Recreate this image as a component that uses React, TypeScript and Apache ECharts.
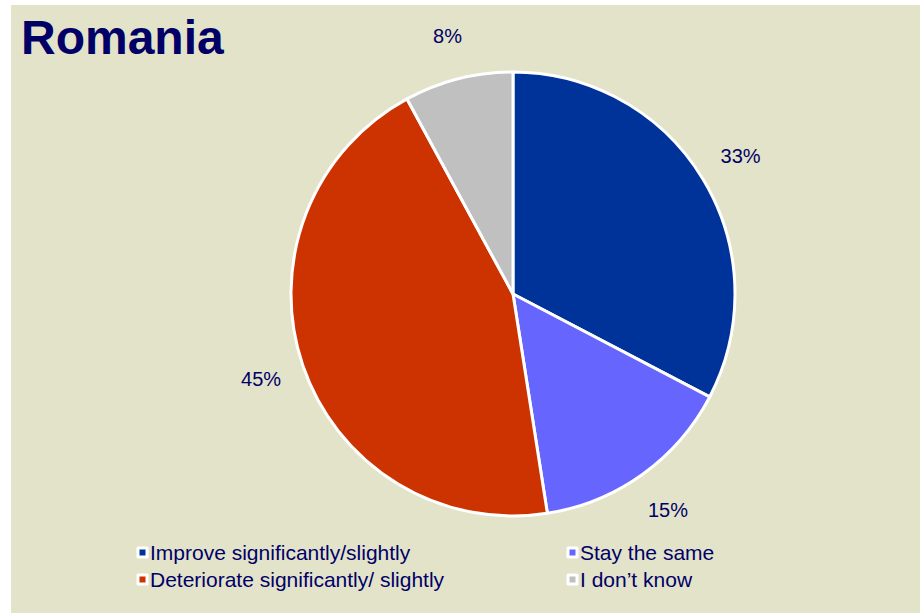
import React, { useEffect, useRef } from "react";
import * as echarts from "echarts";

const categories = [
  "Improve significantly/slightly",
  "Stay the same",
  "Deteriorate significantly/ slightly",
  "I don\u2019t know",
];
const values = [33, 15, 45, 8];
const colors = ["#003399", "#6666FF", "#CC3300", "#C0C0C0"];
const title = "Romania";

const TEXT = "#000066";
const FONT = "Liberation Sans, Arial, sans-serif";

export default function App() {
  const ref = useRef<HTMLDivElement>(null);
  useEffect(() => {
    document.body.style.margin = "0";
    const chart = echarts.init(ref.current!, undefined, { renderer: "svg" });
    const data = categories.map((name, i) => ({
      name,
      value: values[i],
      itemStyle: { color: colors[i] },
    }));
    const legendCommon = {
      orient: "vertical" as const,
      icon: "rect",
      itemWidth: 9,
      itemHeight: 9,
      itemGap: 6,
      top: 537,
      itemStyle: { borderColor: "#ffffff", borderWidth: 3 },
      textStyle: { color: TEXT, fontSize: 21, fontFamily: FONT, padding: [0, 0, 0, -2] },
      selectedMode: false,
    };
    chart.setOption({
      animation: false,
      backgroundColor: "#ffffff",
      graphic: [
        {
          type: "rect",
          z: -10,
          shape: { x: 11, y: 5, width: 909, height: 608 },
          style: { fill: "#E3E3CA" },
          silent: true,
        },
      ],
      title: {
        text: title,
        left: 16,
        top: 8,
        textStyle: { color: TEXT, fontSize: 48, fontWeight: "bold", fontFamily: FONT },
      },
      legend: [
        { ...legendCommon, left: 131.5, data: [categories[0], categories[2]] },
        { ...legendCommon, left: 561.5, data: [categories[1], categories[3]] },
      ],
      series: [
        {
          type: "pie",
          center: [513, 294],
          radius: [0, 222],
          startAngle: 90,
          clockwise: true,
          avoidLabelOverlap: false,
          itemStyle: { borderColor: "#ffffff", borderWidth: 3 },
          label: { show: false },
          labelLine: { show: false },
          emphasis: { disabled: true },
          data,
        },
        {
          type: "pie",
          center: [513, 294],
          radius: [253, 273],
          startAngle: 90,
          clockwise: true,
          silent: true,
          avoidLabelOverlap: false,
          legendHoverLink: false,
          itemStyle: { color: "transparent", borderWidth: 0 },
          label: {
            show: true,
            position: "inside",
            formatter: "{c}%",
            color: TEXT,
            fontSize: 20,
            fontFamily: FONT,
          },
          labelLine: { show: false },
          emphasis: { disabled: true },
          data: categories.map((name, i) => ({ name: name + " ", value: values[i] })),
        },
      ],
    });
    return () => chart.dispose();
  }, []);
  return <div ref={ref} style={{ width: 920, height: 613 }} />;
}
